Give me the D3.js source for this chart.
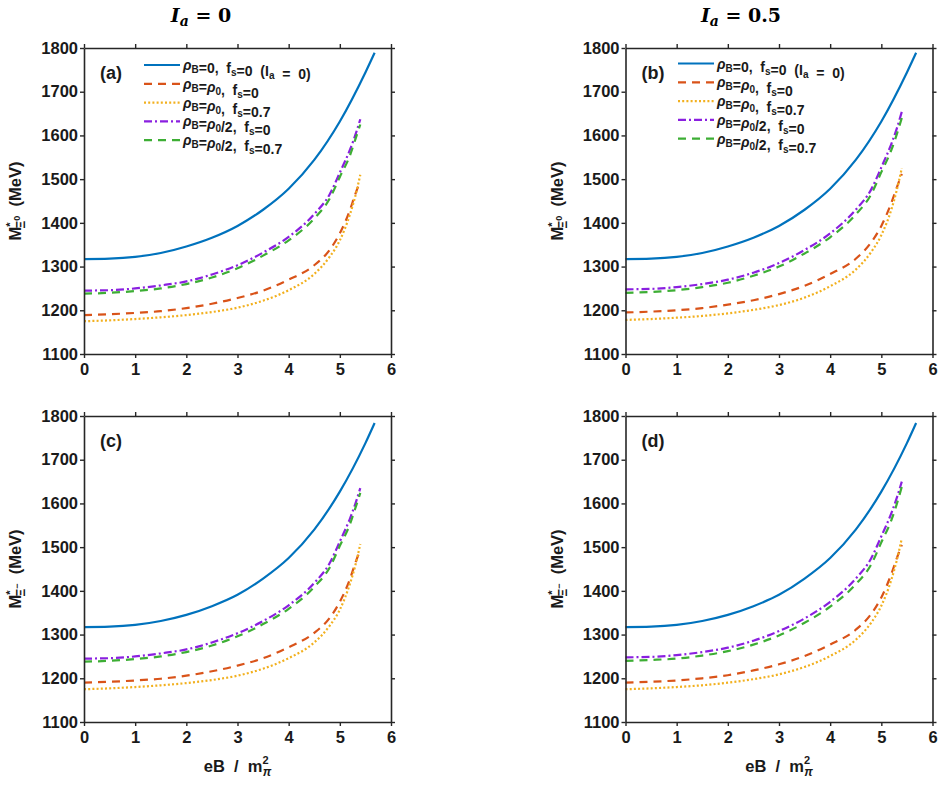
<!DOCTYPE html>
<html>
<head>
<meta charset="utf-8">
<script src="https://cdn.jsdelivr.net/npm/d3@7"></script>
<style>
  body { margin: 0; background: #fff; }
  svg { display: block; }
  text { font-family: "Liberation Sans", Arial, sans-serif; }
</style>
</head>
<body>
<div id="chart"></div>
<script>
// eB / m_pi^2 grid
const eBBlue = [0, 0.5, 1, 1.5, 2, 2.5, 3, 3.5, 4, 4.5, 5, 5.5, 5.68];
const eBRest = [0, 0.5, 1, 1.5, 2, 2.5, 3, 3.5, 4, 4.5, 4.8, 5, 5.2, 5.3, 5.4];

// (a) Ia = 0, Xi0
const blueA   = [1317, 1318, 1322, 1331, 1346, 1366, 1393, 1430, 1478, 1544, 1632, 1744, 1789];
const orangeA = [1189, 1191, 1194, 1198, 1205, 1215, 1228, 1245, 1270, 1303, 1338, 1376, 1430, 1465, 1495];
const yellowA = [1175, 1177, 1180, 1184, 1189, 1196, 1206, 1222, 1246, 1283, 1322, 1360, 1420, 1460, 1510];
const purpleA = [1245, 1246, 1250, 1257, 1266, 1282, 1303, 1332, 1368, 1420, 1465, 1515, 1568, 1600, 1637];
const greenA  = [1238, 1240, 1244, 1250, 1260, 1275, 1296, 1325, 1360, 1410, 1455, 1505, 1555, 1590, 1625];

// (b) Ia = 0.5, Xi0
const blueB   = [1317, 1318, 1322, 1331, 1346, 1366, 1393, 1430, 1478, 1544, 1632, 1744, 1789];
const orangeB = [1195, 1197, 1200, 1205, 1213, 1223, 1237, 1256, 1283, 1318, 1355, 1393, 1447, 1480, 1512];
const yellowB = [1178, 1180, 1183, 1187, 1193, 1201, 1212, 1229, 1255, 1293, 1333, 1372, 1432, 1474, 1525];
const purpleB = [1248, 1249, 1253, 1260, 1270, 1286, 1308, 1338, 1376, 1430, 1476, 1527, 1582, 1615, 1654];
const greenB  = [1240, 1242, 1246, 1253, 1263, 1279, 1300, 1330, 1367, 1419, 1465, 1516, 1568, 1602, 1640];

// (c) Ia = 0, Xi-
const blueC   = [1317, 1318, 1322, 1331, 1345, 1365, 1391, 1428, 1475, 1540, 1627, 1738, 1784];
const orangeC = [1190, 1192, 1195, 1199, 1206, 1216, 1229, 1246, 1271, 1304, 1338, 1375, 1428, 1463, 1494];
const yellowC = [1175, 1177, 1180, 1184, 1189, 1196, 1206, 1222, 1246, 1282, 1320, 1357, 1417, 1457, 1507];
const purpleC = [1245, 1246, 1250, 1257, 1266, 1282, 1303, 1331, 1367, 1418, 1463, 1513, 1566, 1598, 1635];
const greenC  = [1238, 1240, 1244, 1250, 1260, 1275, 1296, 1324, 1359, 1409, 1453, 1503, 1553, 1588, 1624];

// (d) Ia = 0.5, Xi-
const blueD   = [1317, 1318, 1322, 1331, 1345, 1365, 1391, 1428, 1475, 1540, 1627, 1738, 1784];
const orangeD = [1190, 1192, 1195, 1200, 1207, 1218, 1232, 1251, 1277, 1311, 1347, 1385, 1440, 1474, 1505];
const yellowD = [1175, 1177, 1180, 1184, 1190, 1198, 1209, 1226, 1251, 1288, 1327, 1366, 1427, 1469, 1520];
const purpleD = [1248, 1249, 1253, 1260, 1270, 1286, 1308, 1337, 1375, 1428, 1474, 1525, 1579, 1612, 1650];
const greenD  = [1240, 1242, 1245, 1252, 1262, 1277, 1298, 1327, 1364, 1415, 1460, 1511, 1563, 1598, 1638];

const xTicks = [0, 1, 2, 3, 4, 5, 6];
const yTicks = [1100, 1200, 1300, 1400, 1500, 1600, 1700, 1800];
const panelTags = ["(a)", "(b)", "(c)", "(d)"];

const W = 943, H = 809;
const svg = d3.select("#chart").append("svg")
  .attr("width", W).attr("height", H)
  .attr("viewBox", [0, 0, W, H]);
svg.append("rect").attr("width", W).attr("height", H).attr("fill", "#fff");

const styles = {
  blue:   { color: "#0072BD", dash: null },
  orange: { color: "#D95319", dash: "8,6" },
  yellow: { color: "#F2B01E", dash: "2,2.2" },
  purple: { color: "#8A1FE0", dash: "8,3,2,3" },
  green:  { color: "#3DAE34", dash: "8,6" }
};

const panels = [
  { tag: panelTags[0], x0: 84,    y0: 48,  sub: "0", legend: true,  lx: 144, s: { blue: blueA, orange: orangeA, yellow: yellowA, purple: purpleA, green: greenA } },
  { tag: panelTags[1], x0: 625.5, y0: 48,  sub: "0", legend: true,  lx: 678, s: { blue: blueB, orange: orangeB, yellow: yellowB, purple: purpleB, green: greenB } },
  { tag: panelTags[2], x0: 84,    y0: 416, sub: "−", legend: false, s: { blue: blueC, orange: orangeC, yellow: yellowC, purple: purpleC, green: greenC } },
  { tag: panelTags[3], x0: 625.5, y0: 416, sub: "−", legend: false, s: { blue: blueD, orange: orangeD, yellow: yellowD, purple: purpleD, green: greenD } }
];

const pw = 307, ph = 306;
const axisColor = "#262626";
const ink = "#1a1a1a";

panels.forEach((p, i) => {
  const g = svg.append("g").attr("transform", `translate(${p.x0},${p.y0})`);
  const x = d3.scaleLinear().domain([0, 6]).range([0, pw]);
  const y = d3.scaleLinear().domain([1100, 1800]).range([ph, 0]);

  // curves
  ["blue", "orange", "yellow", "purple", "green"].forEach(k => {
    const xs = k === "blue" ? eBBlue : eBRest;
    const pts = xs.map((v, j) => [v, p.s[k][j]]);
    const line = d3.line().x(d => x(d[0])).y(d => y(d[1])).curve(d3.curveMonotoneX);
    g.append("path")
      .attr("d", line(pts))
      .attr("fill", "none")
      .attr("stroke", styles[k].color)
      .attr("stroke-width", 2.2)
      .attr("stroke-dasharray", styles[k].dash);
  });

  // axes (box, outward ticks)
  const fmt = d3.format("d");
  g.append("g").attr("transform", `translate(0,${ph})`)
    .call(d3.axisBottom(x).tickValues(xTicks).tickSize(4).tickSizeOuter(0).tickPadding(5).tickFormat(fmt));
  g.append("g").call(d3.axisTop(x).tickValues(xTicks).tickSize(4).tickSizeOuter(0).tickFormat(""));
  g.append("g")
    .call(d3.axisLeft(y).tickValues(yTicks).tickSize(4).tickSizeOuter(0).tickPadding(2).tickFormat(fmt));
  g.append("g").attr("transform", `translate(${pw},0)`)
    .call(d3.axisRight(y).tickValues(yTicks).tickSize(4).tickSizeOuter(0).tickFormat(""));
  g.selectAll(".domain").attr("stroke", axisColor).attr("stroke-width", 1.6);
  g.selectAll(".tick line").attr("stroke", axisColor).attr("stroke-width", 1.4);
  g.selectAll(".tick text")
    .attr("fill", ink)
    .style("font-family", "'Liberation Sans', Arial, sans-serif")
    .style("font-weight", "bold")
    .style("font-size", "16.5px");

  // panel tag
  g.append("text").attr("x", 16).attr("y", 31)
    .attr("fill", ink)
    .style("font-weight", "bold").style("font-size", "18px")
    .text(p.tag);

  // y label
  const yl = svg.append("text")
    .attr("transform", `translate(${p.x0 - 63},${p.y0 + ph / 2}) rotate(-90)`)
    .attr("text-anchor", "middle")
    .attr("fill", ink)
    .style("font-weight", "bold").style("font-size", "16.5px")
    .attr("xml:space", "preserve");
  yl.append("tspan").text("M");
  yl.append("tspan").attr("dy", -7).style("font-size", "11px").text("*");
  yl.append("tspan").attr("dx", -6).attr("dy", 11).style("font-size", "12px").text("Ξ");
  yl.append("tspan").attr("dy", -5).style("font-size", "9px").text(p.sub);
  yl.append("tspan").attr("dy", 1).text("  (MeV)");

  // x label (bottom row)
  if (i >= 2) {
    const xl = svg.append("text")
      .attr("x", p.x0 + pw / 2).attr("y", p.y0 + ph + 50)
      .attr("text-anchor", "middle")
      .attr("fill", ink)
      .style("font-weight", "bold").style("font-size", "16.5px")
      .attr("xml:space", "preserve");
    xl.append("tspan").text("eB  /  m");
    xl.append("tspan").attr("dy", -8).style("font-size", "11px").text("2");
    xl.append("tspan").attr("dx", -6).attr("dy", 12).style("font-size", "12px").style("font-style", "italic").text("π");
  }

  // legend
  if (p.legend) {
    const rows = [
      { k: "blue",   a: "0",    f: "0",   extra: true },
      { k: "orange", a: "ρ0",   f: "0" },
      { k: "yellow", a: "ρ0",   f: "0.7" },
      { k: "purple", a: "ρ0/2", f: "0" },
      { k: "green",  a: "ρ0/2", f: "0.7" }
    ];
    rows.forEach((r, j) => {
      const yy = (i === 0 ? 65 : 63.5) + j * 18.8;
      svg.append("line")
        .attr("x1", p.lx).attr("x2", p.lx + 36)
        .attr("y1", yy).attr("y2", yy)
        .attr("stroke", styles[r.k].color)
        .attr("stroke-width", 2.2)
        .attr("stroke-dasharray", styles[r.k].dash);
      const t = svg.append("text")
        .attr("x", p.lx + 39).attr("y", yy + 5)
        .attr("fill", ink)
        .style("font-weight", "bold").style("font-size", "14px")
        .attr("xml:space", "preserve");
      const sub = (txt) => {
        t.append("tspan").attr("dy", 3).style("font-size", "10px").text(txt);
        t.append("tspan").attr("dy", -3).text("");
      };
      t.append("tspan").style("font-style", "italic").text("ρ");
      sub("B");
      if (r.a === "0") {
        t.append("tspan").text("=0,  f");
      } else {
        t.append("tspan").text("=");
        t.append("tspan").style("font-style", "italic").text("ρ");
        sub("0");
        if (r.a.endsWith("/2")) t.append("tspan").text("/2");
        t.append("tspan").text(",  f");
      }
      sub("s");
      t.append("tspan").text("=" + r.f);
      if (r.extra) {
        t.append("tspan").text("  (I");
        sub("a");
        t.append("tspan").text("  =  0)");
      }
    });
  }
});

// column titles
const titles = [
  { x: 201, val: "0" },
  { x: 741, val: "0.5" }
];
titles.forEach(tt => {
  const t = svg.append("text")
    .attr("x", tt.x).attr("y", 22)
    .attr("text-anchor", "middle")
    .attr("fill", "#000")
    .style("font-family", "'DejaVu Serif', 'Liberation Serif', serif")
    .style("font-weight", "bold").style("font-size", "19px")
    .attr("xml:space", "preserve");
  t.append("tspan").style("font-style", "italic").text("I");
  t.append("tspan").attr("dy", 4).style("font-style", "italic").style("font-size", "14px").text("a");
  t.append("tspan").attr("dy", -4).text(" = " + tt.val);
});
</script>
</body>
</html>
